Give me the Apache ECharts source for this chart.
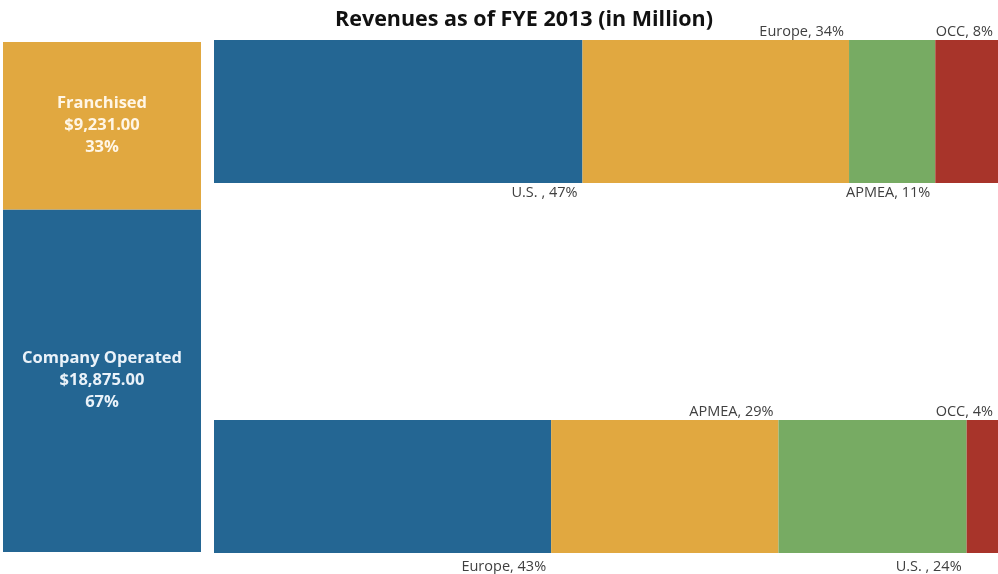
<!DOCTYPE html>
<html>
<head>
<meta charset="utf-8">
<script src="https://cdn.jsdelivr.net/npm/echarts@6/dist/echarts.min.js"></script>
<style>
  html, body { margin: 0; padding: 0; background: #ffffff; }
  #chart { width: 998px; height: 574px; }
</style>
</head>
<body>
<div id="chart"></div>
<script>
// Revenue split by ownership type (in million USD)
const ownershipTypes = ['Franchised', 'Company Operated'];
const ownershipRevenue = [9231.00, 18875.00];
const ownershipShare = [33, 67];

// Regional split of franchised revenues (%)
const franchisedRegions = ['U.S. ', 'Europe', 'APMEA', 'OCC'];
const franchisedShares = [47, 34, 11, 8];

// Regional split of company-operated revenues (%)
const companyRegions = ['Europe', 'APMEA', 'U.S. ', 'OCC'];
const companyShares = [43, 29, 24, 4];

// Segment colours by stack position
const segmentColors = ['#246693', '#E1A840', '#77AB63', '#A8342A'];
const ownershipColors = { 'Franchised': '#E1A840', 'Company Operated': '#246693' };
const ownershipTextColors = { 'Franchised': '#fff6e6', 'Company Operated': '#eaf2f9' };

const labelFont = { fontFamily: 'Open Sans', fontSize: 14.5, color: '#404040' };

const chart = echarts.init(document.getElementById('chart'), null, { renderer: 'canvas' });

const totalRevenue = ownershipRevenue.reduce((a, b) => a + b, 0);
const fmtMoney = v => '$' + v.toLocaleString('en-US', { minimumFractionDigits: 2, maximumFractionDigits: 2 });

// Left column: stacked share of each ownership type (company operated at the bottom)
const leftOrder = [1, 0];
const leftSeries = leftOrder.map(i => ({
  type: 'bar',
  name: ownershipTypes[i],
  xAxisIndex: 0,
  yAxisIndex: 0,
  stack: 'own',
  barWidth: '100%',
  data: [ownershipRevenue[i]],
  itemStyle: { color: ownershipColors[ownershipTypes[i]] },
  label: {
    show: true,
    position: 'inside',
    formatter: ownershipTypes[i] + '\n' + fmtMoney(ownershipRevenue[i]) + '\n' + ownershipShare[i] + '%',
    fontFamily: 'Open Sans',
    fontWeight: 'bold',
    fontSize: 16.5,
    lineHeight: 22,
    color: ownershipTextColors[ownershipTypes[i]]
  }
}));

// Right bars: labels alternate below / above the segment, right-aligned to its end
function regionSeries(names, shares, axisIdx) {
  return names.map((n, k) => {
    const below = k % 2 === 0;
    return {
      type: 'bar',
      name: n + axisIdx,
      xAxisIndex: axisIdx,
      yAxisIndex: axisIdx,
      stack: 'r' + axisIdx,
      barWidth: '100%',
      data: [shares[k]],
      itemStyle: { color: segmentColors[k] },
      label: Object.assign({
        show: true,
        position: below ? ['100%', '100%'] : ['100%', 0],
        align: 'right',
        verticalAlign: below ? 'top' : 'bottom',
        offset: [-5, below ? (axisIdx === 1 ? 2 : 6) : -1],
        formatter: n + ', ' + shares[k] + '%'
      }, labelFont)
    };
  });
}

const grids = [
  { left: 3, top: 42, width: 198, height: 510 },
  { left: 214, top: 40, width: 787, height: 143 },
  { left: 214, top: 420, width: 785, height: 133 }
];

const hiddenAxis = { show: false };

chart.setOption({
  animation: false,
  title: {
    text: 'Revenues as of FYE 2013 (in Million)',
    left: 519,
    textAlign: 'center',
    top: 4,
    textStyle: { fontFamily: 'Open Sans', fontWeight: 'bold', fontSize: 21.5, color: '#111111' }
  },
  grid: grids,
  xAxis: [
    Object.assign({ type: 'category', data: ['Revenue'], gridIndex: 0 }, hiddenAxis),
    Object.assign({ type: 'value', min: 0, max: 100, gridIndex: 1 }, hiddenAxis),
    Object.assign({ type: 'value', min: 0, max: 100, gridIndex: 2 }, hiddenAxis)
  ],
  yAxis: [
    Object.assign({ type: 'value', min: 0, max: totalRevenue, gridIndex: 0 }, hiddenAxis),
    Object.assign({ type: 'category', data: ['Franchised'], gridIndex: 1 }, hiddenAxis),
    Object.assign({ type: 'category', data: ['Company Operated'], gridIndex: 2 }, hiddenAxis)
  ],
  series: leftSeries
    .concat(regionSeries(franchisedRegions, franchisedShares, 1))
    .concat(regionSeries(companyRegions, companyShares, 2))
});
</script>
</body>
</html>
